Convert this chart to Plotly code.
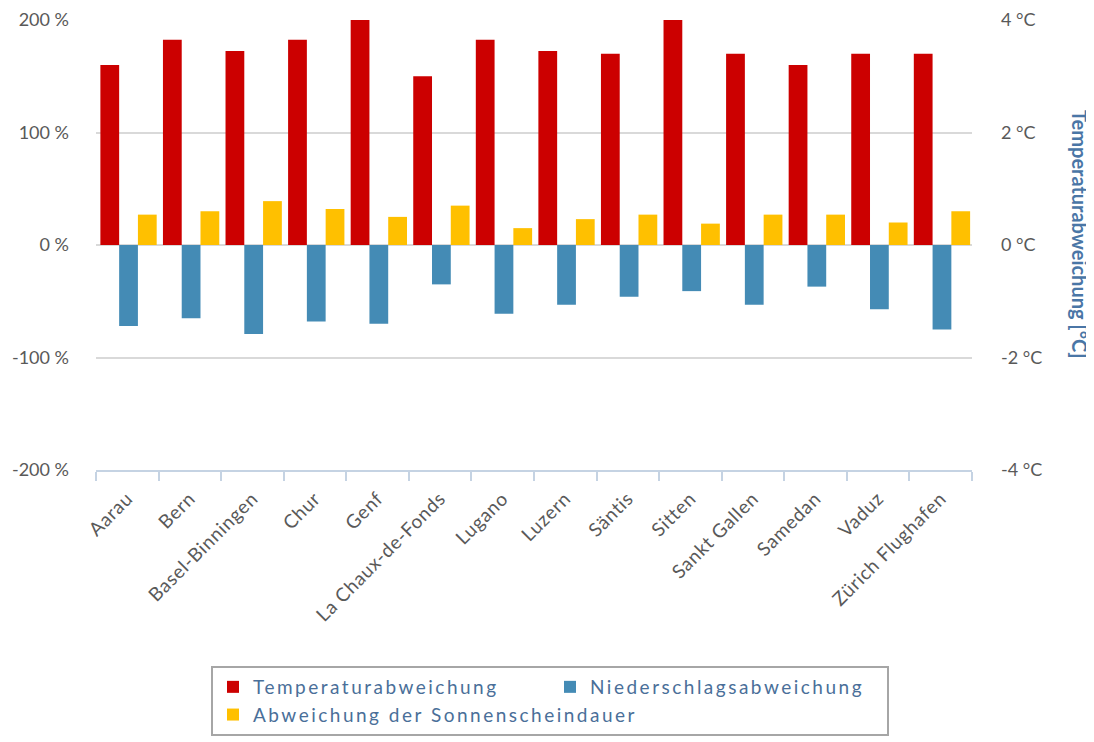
import plotly.graph_objects as go

stations = ["Aarau", "Bern", "Basel-Binningen", "Chur", "Genf", "La Chaux-de-Fonds",
            "Lugano", "Luzern", "Säntis", "Sitten", "Sankt Gallen", "Samedan",
            "Vaduz", "Zürich Flughafen"]
temp_dev = [3.2, 3.65, 3.45, 3.65, 4.0, 3.0, 3.65, 3.45, 3.4, 4.0, 3.4, 3.2, 3.4, 3.4]
precip_dev = [-72, -65, -79, -68, -70, -35, -61, -53, -46, -41, -53, -37, -57, -75]
sun_dev = [27, 30, 39, 32, 25, 35, 15, 23, 27, 19, 27, 27, 20, 30]

pct_ticks = [-200, -100, 0, 100, 200]
pct_labels = ["-200 %", "-100 %", "0 %", "100 %", "200 %"]
deg_ticks = [-4, -2, 0, 2, 4]
deg_labels = ["-4 °C", "-2 °C", "0 °C", "2 °C", "4 °C"]
series_names = ["Temperaturabweichung", "Niederschlagsabweichung",
                "Abweichung der Sonnenscheindauer"]

RED = "#cc0000"
BLUE = "#448bb5"
YELLOW = "#ffc000"
GREY = "#595959"
LEG = "#4a6f99"
FONT = "Lato, 'Open Sans', sans-serif"

# page body adds an 8px offset; size the figure so the plot lands where the reference has it
OFF = 8
W, H = 1094 - OFF, 742 - OFF


def spaced(t, px):
    return f'<span style="letter-spacing:{px}px">{t}</span>'


fig = go.Figure()
fig.add_trace(go.Bar(x=stations, y=temp_dev, name=spaced(series_names[0], 2.5),
                     marker=dict(color=RED, line=dict(width=0)),
                     width=0.30, offset=-0.43, yaxis="y2"))
fig.add_trace(go.Bar(x=stations, y=precip_dev, name=spaced(series_names[1], 2.5),
                     marker=dict(color=BLUE, line=dict(width=0)),
                     width=0.30, offset=-0.13))
fig.add_trace(go.Bar(x=stations, y=sun_dev, name=spaced(series_names[2], 2.5),
                     marker=dict(color=YELLOW, line=dict(width=0)),
                     width=0.30, offset=0.17))

fig.update_layout(
    width=W, height=H,
    margin=dict(l=96 - OFF, r=1094 - 972, t=20 - OFF, b=742 - 470, autoexpand=False),
    paper_bgcolor="white", plot_bgcolor="white",
    barmode="overlay",
    font=dict(family=FONT, color=GREY, size=17),
    xaxis=dict(
        type="category", tickson="boundaries", ticks="outside", ticklen=9,
        tickwidth=2, tickcolor="#c5d3e3", showline=True, linecolor="#c5d3e3",
        linewidth=2, tickangle=-45, tickfont=dict(size=19, color=GREY),
        tickvals=stations, ticktext=[spaced(s, 0.7) for s in stations],
        ticklabelstandoff=8, showgrid=False, automargin=False,
    ),
    yaxis=dict(
        range=[-200, 200], tickvals=pct_ticks, ticktext=pct_labels,
        showgrid=True, gridcolor="#d9d9d9", gridwidth=2, zeroline=False,
        tickfont=dict(size=18, color=GREY), ticklabelstandoff=26, automargin=False,
    ),
    yaxis2=dict(
        range=[-4, 4], tickvals=deg_ticks, ticktext=deg_labels,
        overlaying="y", side="right", showgrid=False, zeroline=False,
        tickfont=dict(size=18, color=GREY), ticklabelstandoff=28, automargin=False,
    ),
    legend=dict(
        orientation="h", xref="container", yref="container",
        x=(211 - OFF) / W, xanchor="left",
        y=1 - (666 - OFF) / H, yanchor="top",
        entrywidth=292, bordercolor="#a6a6a6", borderwidth=2,
        font=dict(size=19, color=LEG), traceorder="normal",
    ),
    annotations=[dict(
        text="<b>Temperaturabweichung [°C]</b>", xref="paper", yref="paper",
        x=(1080 - 96) / 876, y=(470 - 234) / 450, textangle=90, showarrow=False,
        font=dict(size=20, color="#4a76a6"), xanchor="center", yanchor="middle",
    )],
)

fig.write_html("out.html")
